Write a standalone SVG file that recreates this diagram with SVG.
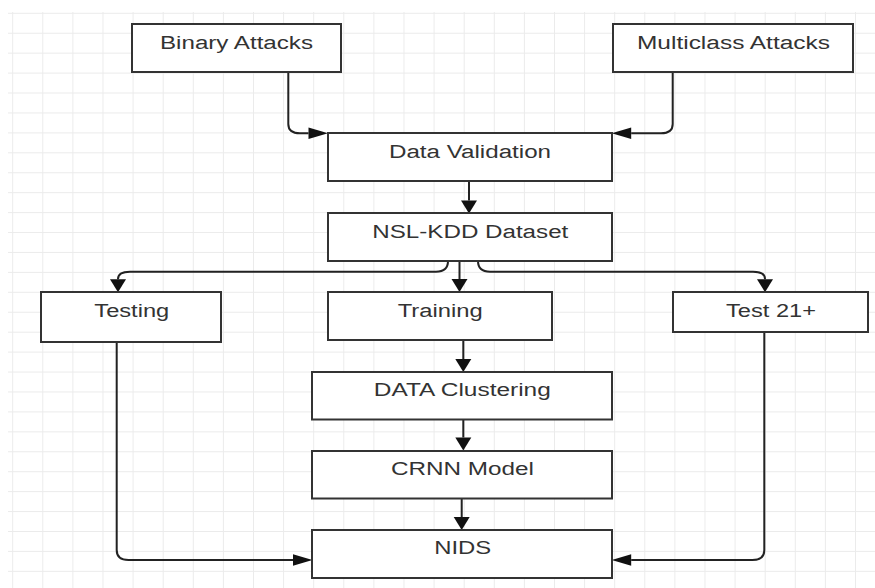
<svg xmlns="http://www.w3.org/2000/svg" width="875" height="588" viewBox="0 0 875 588">
<style>
.box{fill:#fff;stroke:#333;stroke-width:2}
.lbl{font-family:"Liberation Sans",Arial,sans-serif;font-size:18px;fill:#333;text-anchor:middle}
.con{fill:none;stroke:#222;stroke-width:2}
</style>
<defs>
<pattern id="grid" patternUnits="userSpaceOnUse" x="12.2" y="12.8" width="30.1" height="19.93">
<path d="M0.5,0 V19.93 M0,0.5 H30.1" fill="none" stroke="#ebebeb" stroke-width="1"/>
</pattern>
<marker id="av" markerUnits="userSpaceOnUse" markerWidth="14" markerHeight="16" refX="0" refY="8" orient="auto" overflow="visible">
<path d="M0,0 L13,8 L0,16 z" fill="#111"/>
</marker>
<marker id="ah" markerUnits="userSpaceOnUse" markerWidth="20" markerHeight="12" refX="0" refY="5.7" orient="auto" overflow="visible">
<path d="M0,0 L19.5,5.7 L0,11.4 z" fill="#111"/>
</marker>
</defs>
<rect width="875" height="588" fill="#fff"/>
<rect x="8" y="12" width="867" height="576" fill="url(#grid)"/>
<g id="connectors">
<path class="con" d="M288.3,72 V124 Q288.3,133.3 300,133.3 H308.5" marker-end="url(#ah)"/>
<path class="con" d="M672.7,72 V124 Q672.7,133.3 661,133.3 H631.2" marker-end="url(#ah)"/>
<path class="con" d="M469,181 V200.5" marker-end="url(#av)"/>
<path class="con" d="M448,261 Q448,271.7 436,271.7 H130 Q118,271.7 118,279 V279.2" marker-end="url(#av)"/>
<path class="con" d="M459.5,261 V279" marker-end="url(#av)"/>
<path class="con" d="M478,261 Q478,271.7 490,271.7 H753 Q765,271.7 765,279 V279.2" marker-end="url(#av)"/>
<path class="con" d="M463.3,340 V359" marker-end="url(#av)"/>
<path class="con" d="M463.3,419.5 V437.5" marker-end="url(#av)"/>
<path class="con" d="M461.7,498.5 V517" marker-end="url(#av)"/>
<path class="con" d="M116.7,342 V550 Q116.7,560 128.5,560 H293" marker-end="url(#ah)"/>
<path class="con" d="M764.3,332 V550 Q764.3,560 752.5,560 H631.2" marker-end="url(#ah)"/>
</g>
<g id="binary"><rect class="box" x="132" y="24" width="209" height="48"/><text class="lbl" x="236.5" y="49" textLength="153" lengthAdjust="spacingAndGlyphs">Binary Attacks</text></g>
<g id="multiclass"><rect class="box" x="613" y="24" width="240" height="48"/><text class="lbl" x="733.5" y="49" textLength="193" lengthAdjust="spacingAndGlyphs">Multiclass Attacks</text></g>
<g id="validation"><rect class="box" x="328" y="133" width="284" height="48"/><text class="lbl" x="470" y="158" textLength="162" lengthAdjust="spacingAndGlyphs">Data Validation</text></g>
<g id="nslkdd"><rect class="box" x="328" y="213" width="284" height="48"/><text class="lbl" x="470.3" y="237.5" textLength="196" lengthAdjust="spacingAndGlyphs">NSL-KDD Dataset</text></g>
<g id="testing"><rect class="box" x="41" y="292" width="180" height="50"/><text class="lbl" x="131.8" y="317" textLength="75" lengthAdjust="spacingAndGlyphs">Testing</text></g>
<g id="training"><rect class="box" x="328" y="292" width="224" height="48"/><text class="lbl" x="440.2" y="317" textLength="85" lengthAdjust="spacingAndGlyphs">Training</text></g>
<g id="test21"><rect class="box" x="673" y="292" width="195" height="40"/><text class="lbl" x="771" y="317" textLength="90" lengthAdjust="spacingAndGlyphs">Test 21+</text></g>
<g id="clustering"><rect class="box" x="312" y="372" width="300" height="47.5"/><text class="lbl" x="462.3" y="396" textLength="177" lengthAdjust="spacingAndGlyphs">DATA Clustering</text></g>
<g id="crnn"><rect class="box" x="312" y="451" width="300" height="47.5"/><text class="lbl" x="462.5" y="475" textLength="143" lengthAdjust="spacingAndGlyphs">CRNN Model</text></g>
<g id="nids"><rect class="box" x="312" y="530" width="300" height="48"/><text class="lbl" x="462.7" y="554" textLength="57" lengthAdjust="spacingAndGlyphs">NIDS</text></g>
</svg>
